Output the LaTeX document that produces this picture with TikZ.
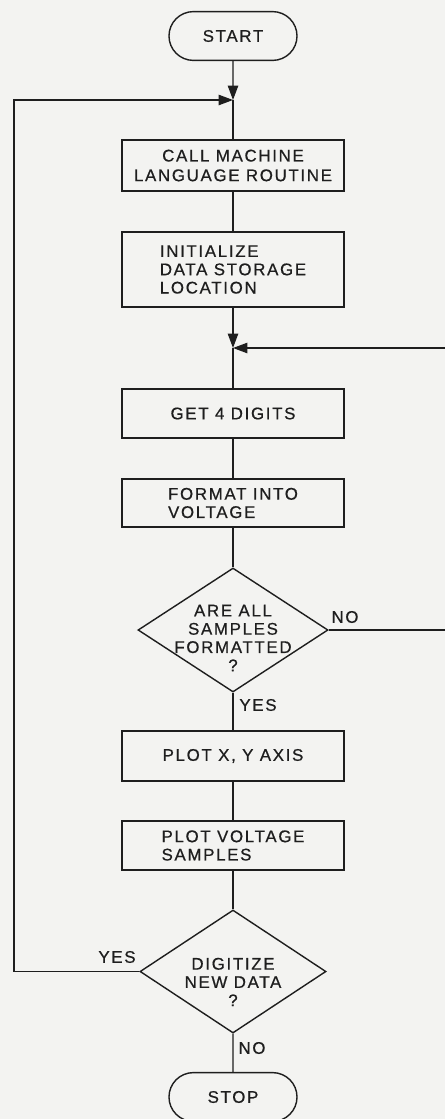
\documentclass[tikz,border=0pt]{standalone}
\usepackage{fontspec}
\setmainfont[LetterSpace=10, FakeBold=0.6]{Liberation Sans}
\usepackage{xcolor}
\definecolor{paper}{HTML}{F3F3F1}
\definecolor{ink}{HTML}{1E1E1E}
\usepackage{tikz}
\usetikzlibrary{arrows.meta, shapes.geometric, shapes.misc}

\tikzset{
  term/.style={rounded rectangle, draw=ink, line width=1pt,
    minimum width=3.2cm, minimum height=1.22cm, inner sep=0pt,
    font=\fontsize{12}{13}\selectfont, text=ink},
  procbox/.style={rectangle, draw=ink, line width=1pt,
    minimum width=5.55cm, inner sep=0pt,
    font=\fontsize{12}{13}\selectfont, text=ink},
  decision/.style={diamond, draw=ink, line width=1pt, inner sep=0pt},
  lbl/.style={font=\fontsize{12}{13}\selectfont, text=ink, inner sep=0pt},
  flow/.style={draw=ink, line width=1pt},
  tip/.style={-{Triangle[length=0.36cm, width=0.26cm]}},
}

\begin{document}
\begin{tikzpicture}[x=0.025cm, y=-0.025cm]

  \fill[paper] (0,0) rectangle (445,1119);
  \useasboundingbox (0,0) rectangle (445,1119);

  % Ablauf
  \node[term] (start) at (233,36) {START};
  \coordinate (j1) at (233,100);
  \node[procbox, minimum height=1.275cm, align=center, font=\fontsize{12}{14}\selectfont]
    (call) at (233,165.5) {CALL MACHINE\\LANGUAGE ROUTINE};
  \node[procbox, minimum height=1.875cm, align=left]
    (init) at (233,269.5) {INITIALIZE\\DATA STORAGE\\LOCATION};
  \coordinate (j2) at (233,348);
  \node[procbox, minimum height=1.225cm] (get) at (233,413.5) {GET 4 DIGITS};
  \node[procbox, minimum height=1.2cm, align=left]
    (fmt) at (233,503) {FORMAT INTO\\VOLTAGE};
  \node[decision, minimum width=4.75cm, minimum height=3.1cm] (q1) at (233,630) {};
  \node[lbl, align=center] (q1txt) at (233,638) {ARE ALL\\SAMPLES\\FORMATTED\\?};
  \node[procbox, minimum height=1.25cm] (axis) at (233,756) {PLOT X, Y AXIS};
  \node[procbox, minimum height=1.225cm, align=left]
    (plot) at (233,845.5) {PLOT VOLTAGE\\SAMPLES};
  \node[decision, minimum width=4.65cm, minimum height=3.075cm] (q2) at (233,971.5) {};
  \node[lbl, align=center] (q2txt) at (233,982) {DIGITIZE\\NEW DATA\\?};
  \node[term] (stop) at (233,1097) {STOP};

  % Verbindungen
  \draw[flow, tip] (start) -- (j1);
  \draw[flow] (j1) -- (call);
  \draw[flow] (call) -- (init);
  \draw[flow, tip] (init) -- (j2);
  \draw[flow] (j2) -- (get);
  \draw[flow] (get) -- (fmt);
  \draw[flow] (fmt) -- (q1);
  \draw[flow] (q1) -- (axis);
  \draw[flow] (axis) -- (plot);
  \draw[flow] (plot) -- (q2);
  \draw[flow] (q2) -- (stop);

  % Schleifen
  \coordinate (rgt) at (449,348);
  \coordinate (lft) at (14,100);
  \draw[flow, tip] (q1.east) -| (rgt) -- (j2);
  \draw[flow, tip] (q2.west) -| (lft) -- (j1);

  % Beschriftungen
  \node[lbl] (no1)  at (345,617)  {NO};
  \node[lbl] (yes1) at (258,705)  {YES};
  \node[lbl] (yes2) at (117,957)  {YES};
  \node[lbl] (no2)  at (252,1048) {NO};

\end{tikzpicture}
\end{document}
